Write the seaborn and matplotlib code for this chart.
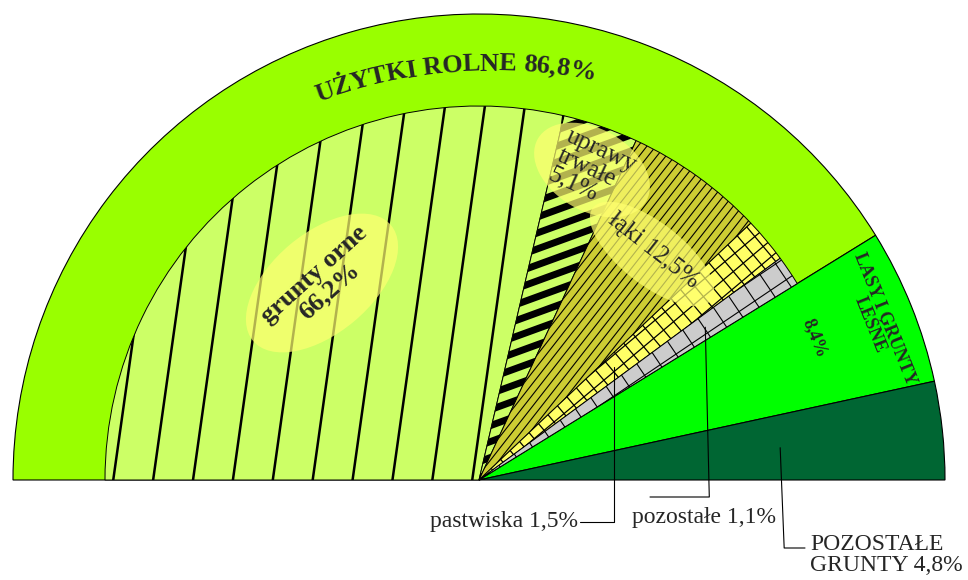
import numpy as np
import matplotlib
matplotlib.use("Agg")
import matplotlib.pyplot as plt
import seaborn as sns
from matplotlib.patches import Ellipse
from matplotlib.collections import LineCollection
from matplotlib.font_manager import FontProperties

# Outer ring - main land-use groups
outer_labels = ["UŻYTKI ROLNE", "LASY I GRUNTY\nLEŚNE", "POZOSTAŁE\nGRUNTY"]
outer_values = ["86,8%", "8,4%", "4,8%"]
# share of the half circle as the slices are drawn in the picture (%)
outer_share = [82.4, 10.8, 6.8]
outer_colors = ["#99FF00", "#00FF00", "#006633"]

# Inner sectors - breakdown of agricultural land
inner_labels = ["grunty orne", "uprawy\ntrwałe", "łąki", "pastwiska", "pozostałe"]
inner_values = ["66,2%", "5,1%", "12,5%", "1,5%", "1,1%"]
inner_share = [57.3, 6.5, 12.1, 3.9, 2.6]
inner_colors = ["#CCFF66", "#CCFF66", "#CCCC33", "#FFFF66", "#CCCCCC"]

W, H = 968, 580
CX, CY = 479, H - 480
R_OUT = 466
R_IN = 374


def iy(y):
    """image row -> data y"""
    return H - y


def stripes(ax, wedge, angle, spacing, lw, z=3):
    """Parallel lines clipped to a wedge (pattern fill)."""
    a = np.deg2rad(angle)
    d = np.array([np.cos(a), np.sin(a)])
    n = np.array([-d[1], d[0]])
    c = np.array(wedge.center)
    L = wedge.r * 2.2
    segs = [[c + n * o - d * L, c + n * o + d * L] for o in np.arange(-L, L, spacing)]
    lc = LineCollection(segs, colors="black", linewidths=lw, zorder=z)
    ax.add_collection(lc)
    lc.set_clip_path(wedge)


def mid_point(wedge, frac):
    t = np.deg2rad((wedge.theta1 + wedge.theta2) / 2)
    return wedge.center[0] + frac * wedge.r * np.cos(t), wedge.center[1] + frac * wedge.r * np.sin(t)


def arc_text(ax, s, center, radius, mid_angle, size, weight="bold"):
    """Write text letter by letter along an arc (1 data unit = 1 px)."""
    renderer = ax.figure.canvas.get_renderer()
    fp = FontProperties(family=plt.rcParams["font.family"], size=size, weight=weight)

    def width(t):
        w0 = renderer.get_text_width_height_descent("XX", fp, ismath=False)[0]
        return renderer.get_text_width_height_descent("X" + t + "X", fp, ismath=False)[0] - w0

    total = width(s)
    for i, ch in enumerate(s):
        if ch == " ":
            continue
        pos = (width(s[:i]) + width(s[:i + 1])) / 2 - total / 2
        th = np.deg2rad(mid_angle) - pos / radius
        ax.text(center[0] + radius * np.cos(th), center[1] + radius * np.sin(th), ch,
                fontproperties=fp, rotation=np.rad2deg(th) - 90,
                rotation_mode="anchor", ha="center", va="center", zorder=6)


sns.set_theme(style="white")
plt.rcParams["font.family"] = ["Liberation Serif", "DejaVu Serif"]

fig = plt.figure(figsize=(W / 100, H / 100), dpi=100)
ax = fig.add_axes([0, 0, 1, 1])

outer, _ = ax.pie(np.array(outer_share) / 200, radius=R_OUT, center=(CX, CY),
                  startangle=180, counterclock=False, normalize=False,
                  colors=outer_colors,
                  wedgeprops=dict(edgecolor="black", linewidth=0.8))
inner, _ = ax.pie(np.array(inner_share) / 200, radius=R_IN, center=(CX, CY),
                  startangle=180, counterclock=False, normalize=False,
                  colors=inner_colors,
                  wedgeprops=dict(edgecolor="black", linewidth=0.7))

ax.set_xlim(0, W)
ax.set_ylim(0, H)
ax.set_aspect("equal")
ax.axis("off")

# pattern fills
stripes(ax, inner[0], 82, 39.5, 1.8)
stripes(ax, inner[1], 20, 15, 5)
stripes(ax, inner[2], 52, 7, 0.8)
stripes(ax, inner[3], 40, 13, 0.9)
stripes(ax, inner[3], 130, 13, 0.9)
stripes(ax, inner[4], 34, 19, 0.8)
stripes(ax, inner[4], 124, 19, 0.8)

# highlight ellipses behind the labels
hl = dict(facecolor="#FFFF70", edgecolor="none", alpha=0.7, zorder=5)
ax.add_patch(Ellipse((322, iy(283)), 180, 100, angle=40, **hl))
ax.add_patch(Ellipse((592, iy(170)), 125, 82, angle=-30, **hl))
ax.add_patch(Ellipse((652, iy(254)), 150, 62, angle=-38, **hl))

# labels
arc_text(ax, f"{outer_labels[0]} {outer_values[0]}", (492, iy(572)), 508, 94.3, 19)
ax.text(322, iy(283), f"{inner_labels[0]}\n{inner_values[0]}", fontsize=19,
        fontweight="bold", rotation=42, ha="center", va="center",
        linespacing=1.0, zorder=6)
ax.text(592, iy(170), f"{inner_labels[1]}\n{inner_values[1]}", fontsize=18,
        rotation=-25, ha="center", va="center", multialignment="left",
        linespacing=0.95, zorder=6)
ax.text(653, iy(251), f"{inner_labels[2]} {inner_values[2]}", fontsize=18,
        rotation=-38, ha="center", va="center", zorder=6)
ax.text(877, iy(322), outer_labels[1], fontsize=13, fontweight="bold",
        rotation=-68, ha="center", va="center", linespacing=0.95, zorder=6)
ax.text(815, iy(338), outer_values[1], fontsize=13, fontweight="bold",
        rotation=-68, ha="center", va="center", zorder=6)

# leader-line labels
lead = dict(color="black", linewidth=0.8, zorder=6)
x0, y0 = mid_point(inner[3], 0.47)
ax.plot([x0, x0, 580], [y0, iy(522), iy(522)], **lead)
ax.text(578, iy(522), f"{inner_labels[3]} {inner_values[3]}", fontsize=17,
        ha="right", va="center")

x0, y0 = mid_point(inner[4], 0.73)
ax.plot([x0, x0 + 4, 650], [y0, iy(497), iy(497)], **lead)
ax.text(632, iy(518), f"{inner_labels[4]} {inner_values[4]}", fontsize=17,
        ha="left", va="center")

x0, y0 = mid_point(outer[2], 0.65)
ax.plot([x0, x0 + 4, 805], [y0, iy(548), iy(548)], **lead)
ax.text(810, iy(555), f"{outer_labels[2]} {outer_values[2]}", fontsize=17,
        ha="left", va="center", linespacing=1.0)

fig.savefig("out.png", dpi=100, facecolor="white")
